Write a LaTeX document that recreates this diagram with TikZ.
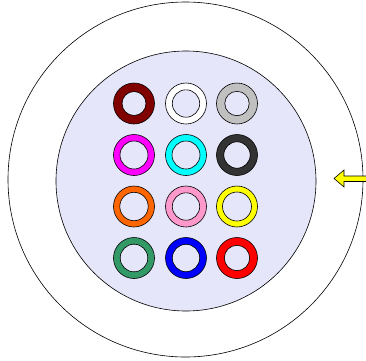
\documentclass[tikz,border=0pt]{standalone}
\usetikzlibrary{calc}
\definecolor{lav}{HTML}{E6E6FA}
\definecolor{c1}{HTML}{800000}
\definecolor{c2}{HTML}{FFFFFF}
\definecolor{c3}{HTML}{C0C0C0}
\definecolor{c4}{HTML}{FF00FF}
\definecolor{c5}{HTML}{00FFFF}
\definecolor{c6}{HTML}{333333}
\definecolor{c7}{HTML}{FF6600}
\definecolor{c8}{HTML}{FF99CC}
\definecolor{c9}{HTML}{FFFF00}
\definecolor{c10}{HTML}{339966}
\definecolor{c11}{HTML}{0000FF}
\definecolor{c12}{HTML}{FF0000}
\tikzset{
  ringline/.style={draw=black, line width=0.6bp, even odd rule},
  jacket/.style={draw=black, line width=0.6bp, fill=white},
  core/.style={draw=black, line width=0.6bp, fill=lav},
  yarrow/.style={draw=black, line width=0.6bp, fill=c9, line join=miter}
}
\begin{document}
\begin{tikzpicture}[x=1bp,y=-1bp]
\useasboundingbox (0,0) rectangle (366,361);
\draw[jacket] (185.5,179.5) circle (177.5);
\draw[core] (186,181) circle (130);
% rings: x, y, color, inner radius
\foreach \x/\y/\c/\ri in {
  134/103.5/c1/12, 186/103.5/c2/13.7, 237/103.5/c3/12.2,
  134/155/c4/14, 186/155/c5/14, 237/155/c6/13.2,
  134/206.5/c7/14.2, 186/206.5/c8/13.7, 237/206.5/c9/14.5,
  134/258/c10/13.8, 186/258/c11/13.7, 237/258/c12/12.7}
{
  \fill[\c, even odd rule] (\x,\y) circle (20.5) (\x,\y) circle (\ri);
  \draw[line width=0.6bp] (\x,\y) circle (20.5) (\x,\y) circle (\ri);
}
% yellow arrow
\draw[yarrow] (334,178.5) -- (344,170) -- (344,176) -- (367,176) -- (367,181.5) -- (344,181.5) -- (344,187) -- cycle;
\end{tikzpicture}
\end{document}
